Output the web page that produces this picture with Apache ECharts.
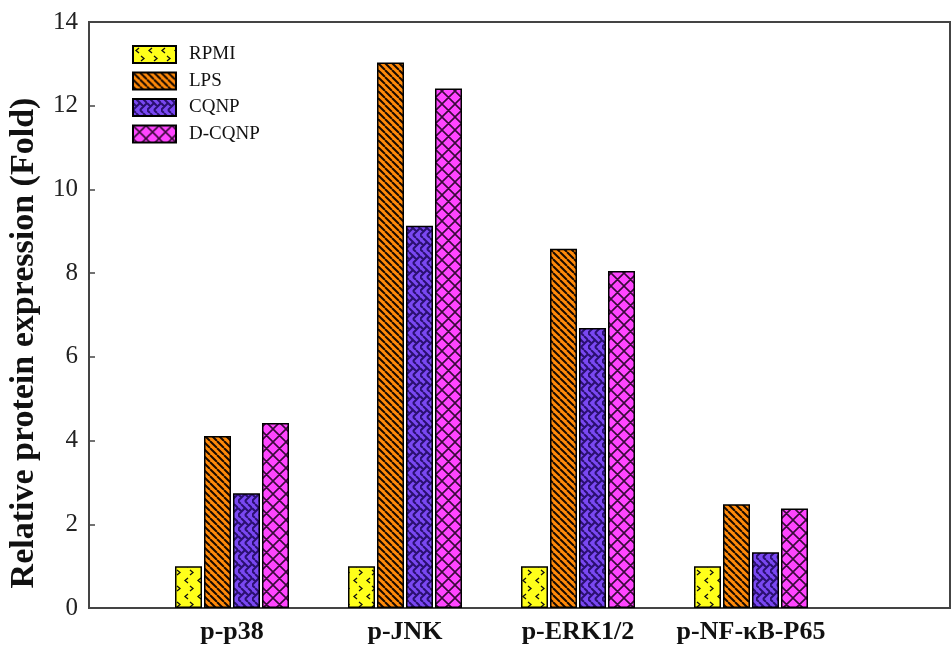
<!DOCTYPE html>
<html>
<head>
<meta charset="utf-8">
<script src="https://cdn.jsdelivr.net/npm/echarts@6/dist/echarts.min.js"></script>
<style>
html,body{margin:0;padding:0;background:#fff;}
#chart{width:952px;height:650px;}
</style>
</head>
<body>
<div id="chart"></div>
<script>
// ---- Data ----
const categories = ["p-p38", "p-JNK", "p-ERK1/2", "p-NF-\u03baB-P65"];
const seriesNames = ["RPMI", "LPS", "CQNP", "D-CQNP"];
const rpmi  = [1.0, 1.0, 1.0, 1.0];
const lps   = [4.11, 13.03, 8.58, 2.48];
const cqnp  = [2.74, 9.13, 6.69, 1.33];
const dcqnp = [4.42, 12.41, 8.05, 2.38];
const yTicks = [0, 2, 4, 6, 8, 10, 12, 14];
const yTitle = 'Relative protein expression (Fold)';

// ---- Patterns ----
function makePattern(w, h, bg, draw) {
  const c = document.createElement('canvas');
  c.width = w; c.height = h;
  const ctx = c.getContext('2d');
  ctx.fillStyle = bg; ctx.fillRect(0, 0, w, h);
  draw(ctx, w, h);
  return { image: c, repeat: 'repeat' };
}
const patRPMI = makePattern(13, 16, '#ffff1a', (ctx) => {
  ctx.strokeStyle = '#111'; ctx.lineWidth = 1.3;
  ctx.beginPath();
  ctx.moveTo(6, 2); ctx.lineTo(3, 4.5); ctx.lineTo(6, 7);
  ctx.moveTo(8, 10); ctx.lineTo(11, 12.5); ctx.lineTo(8, 15);
  ctx.stroke();
});
const patLPS = makePattern(7, 7, '#ff8a0a', (ctx, w, h) => {
  ctx.strokeStyle = '#1a0a00'; ctx.lineWidth = 2;
  ctx.beginPath();
  for (let k = -1; k <= 1; k++) {
    ctx.moveTo(k * w, 0); ctx.lineTo(k * w + w, h);
  }
  ctx.stroke();
});
const patCQNP = makePattern(14, 14, '#7a48f2', (ctx) => {
  ctx.strokeStyle = '#2a1070'; ctx.lineWidth = 2;
  ctx.beginPath();
  ctx.moveTo(0, 4); ctx.lineTo(3.5, 7.5); ctx.lineTo(7, 4); ctx.lineTo(10.5, 7.5); ctx.lineTo(14, 4);
  ctx.moveTo(0, 11); ctx.lineTo(3, 14);
  ctx.moveTo(7, 11); ctx.lineTo(10, 14);
  ctx.moveTo(3.5, 7.5); ctx.lineTo(0, 11);
  ctx.moveTo(10.5, 7.5); ctx.lineTo(7, 11);
  ctx.moveTo(3, 0); ctx.lineTo(7, 4);
  ctx.moveTo(10, 0); ctx.lineTo(14, 4);
  ctx.stroke();
});
const patDCQNP = makePattern(13, 13, '#ff45ff', (ctx, w, h) => {
  ctx.strokeStyle = '#3a0a3a'; ctx.lineWidth = 1.6;
  ctx.beginPath();
  for (let k = -1; k <= 1; k++) {
    ctx.moveTo(k * w, 0); ctx.lineTo(k * w + w, h);
    ctx.moveTo(k * w + w, 0); ctx.lineTo(k * w, h);
  }
  ctx.stroke();
});
const patterns = [patRPMI, patLPS, patCQNP, patDCQNP];
const values = [rpmi, lps, cqnp, dcqnp];

const serif = '"Liberation Serif", "Times New Roman", serif';
const chart = echarts.init(document.getElementById('chart'), null, { renderer: 'canvas' });

const option = {
  backgroundColor: '#fff',
  animation: false,
  legend: {
    data: seriesNames,
    orient: 'vertical',
    left: 132, top: 45,
    padding: 0,
    itemWidth: 43, itemHeight: 17, itemGap: 7.5,
    icon: 'rect',
    textStyle: { fontFamily: serif, fontSize: 19, color: '#111', padding: [0, 0, 0, 8] }
  },
  graphic: [{
    type: 'text',
    x: 24, y: 343,
    rotation: Math.PI / 2,
    style: {
      text: yTitle,
      font: 'bold 34px "Liberation Serif", "Times New Roman", serif',
      fill: '#111',
      align: 'center', verticalAlign: 'middle'
    }
  }],
  grid: [
    { left: 89, top: 22, width: 861, height: 586, show: true, borderColor: '#444', borderWidth: 2, backgroundColor: 'transparent', outerBoundsMode: 'none', containLabel: false },
    { left: 145.5, top: 22, width: 692, height: 586, outerBoundsMode: 'none', containLabel: false }
  ],
  xAxis: [
    { gridIndex: 0, type: 'value', min: 0, max: 1, show: false },
    { gridIndex: 1, type: 'category', data: categories,
      axisLine: { show: false }, axisTick: { show: false },
      axisLabel: { interval: 0, fontFamily: serif, fontWeight: 'bold', fontSize: 26, color: '#111', margin: 11 } }
  ],
  yAxis: [
    { gridIndex: 0, type: 'value', min: 0, max: 14, interval: 2,
      axisLine: { show: true, lineStyle: { color: '#444', width: 2 } },
      axisTick: { show: true, inside: true, length: 6, lineStyle: { color: '#444', width: 1.5 } },
      splitLine: { show: false },
      axisLabel: { fontFamily: serif, fontSize: 25, color: '#222', margin: 11,
        formatter: (v) => yTicks.includes(v) ? String(v) : '' } },
    { gridIndex: 1, type: 'value', min: 0, max: 14, interval: 2, show: false, splitLine: { show: false } }
  ],
  series: seriesNames.map((name, i) => ({
    name: name,
    type: 'bar',
    xAxisIndex: 1, yAxisIndex: 1,
    data: values[i],
    barWidth: 27,
    barGap: '7.4%',
    itemStyle: { color: patterns[i], borderColor: '#000', borderWidth: 1.5 }
  }))
};
chart.setOption(option);
</script>
</body>
</html>
